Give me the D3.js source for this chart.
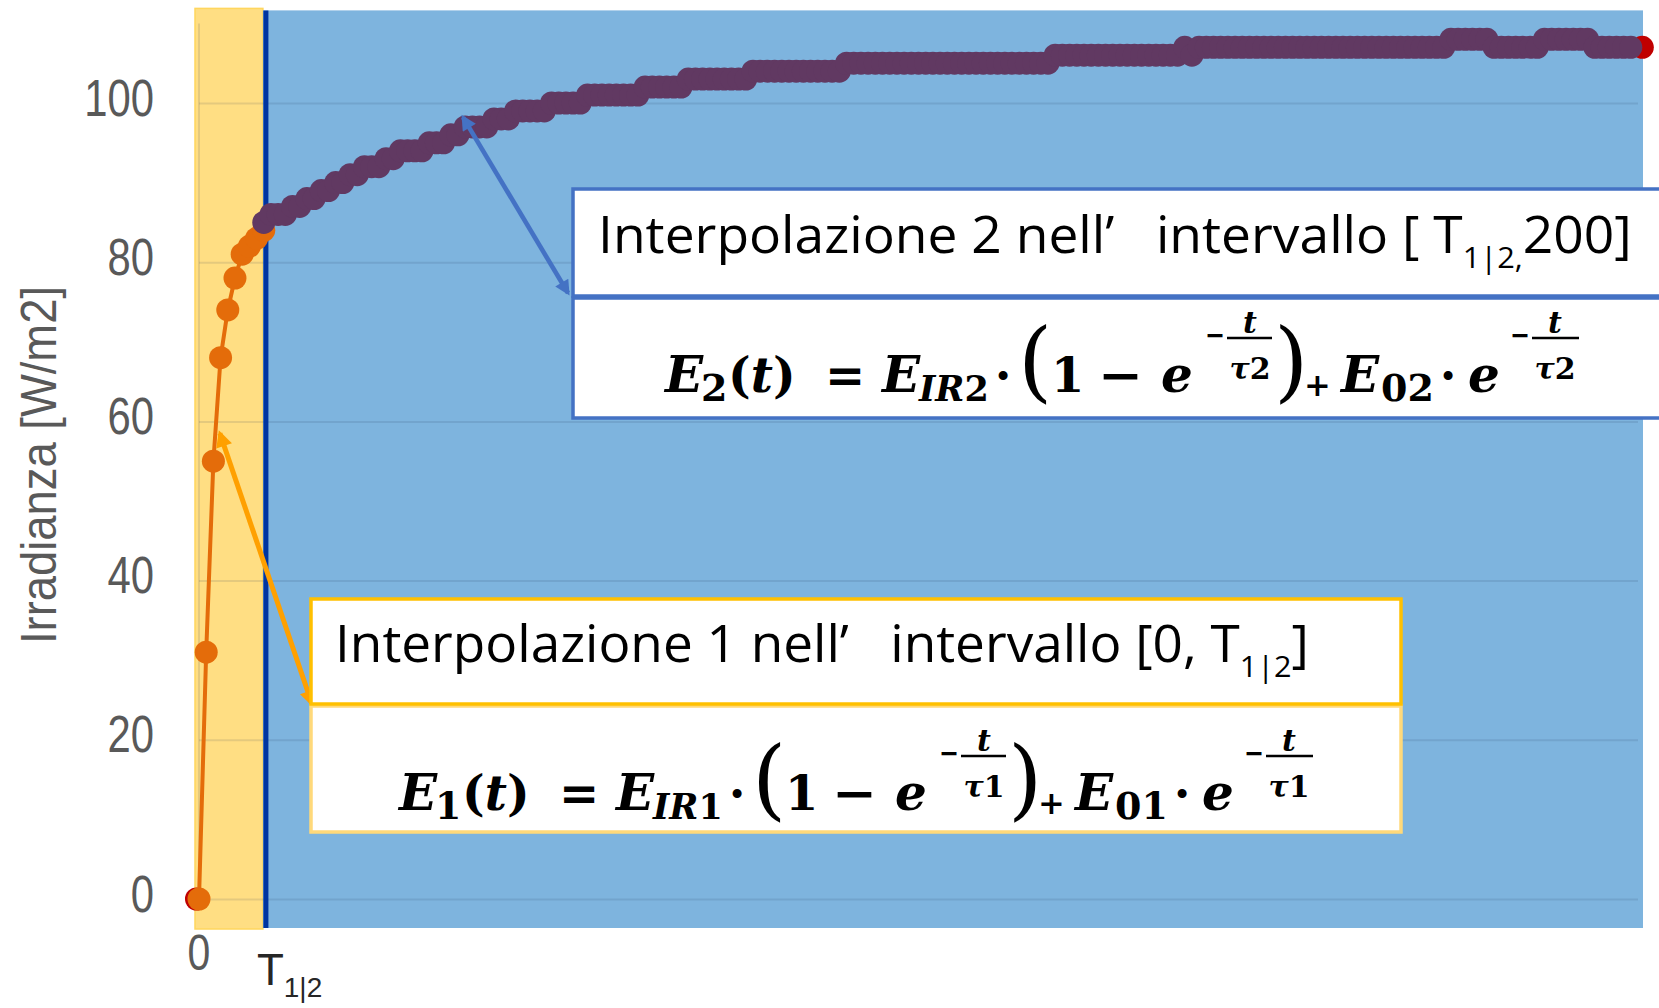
<!DOCTYPE html>
<html>
<head>
<meta charset="utf-8">
<script src="https://cdn.jsdelivr.net/npm/d3@7"></script>
<style>
  html, body { margin: 0; padding: 0; background: #fff; }
  svg { display: block; }
</style>
</head>
<body>
<svg id="chart" width="1659" height="1008"></svg>
<script>
// ---- data ----------------------------------------------------------------
const yTicks = [0, 20, 40, 60, 80, 100];

// first phase, sampled every second from t = 0
const phase1T = [0, 1, 2, 3, 4, 5, 6, 7, 8, 9];
const phase1E = [0, 31, 55, 68, 74, 78, 81, 82, 83, 84];

// second phase, one reading per second from t = 9 to t = 199
const phase2Start = 9;
const phase2E = [
  85, 86, 86, 86, 87, 87, 88, 88, 89, 89,
  90, 90, 91, 91, 92, 92, 92, 93, 93, 94,
  94, 94, 94, 95, 95, 95, 96, 96, 97, 97,
  97, 97, 98, 98, 98, 99, 99, 99, 99, 99,
  100, 100, 100, 100, 100, 101, 101, 101, 101, 101,
  101, 101, 101, 102, 102, 102, 102, 102, 102, 103,
  103, 103, 103, 103, 103, 103, 103, 103, 104, 104,
  104, 104, 104, 104, 104, 104, 104, 104, 104, 104,
  104, 105, 105, 105, 105, 105, 105, 105, 105, 105,
  105, 105, 105, 105, 105, 105, 105, 105, 105, 105,
  105, 105, 105, 105, 105, 105, 105, 105, 105, 105,
  106, 106, 106, 106, 106, 106, 106, 106, 106, 106,
  106, 106, 106, 106, 106, 106, 106, 106, 107, 106,
  107, 107, 107, 107, 107, 107, 107, 107, 107, 107,
  107, 107, 107, 107, 107, 107, 107, 107, 107, 107,
  107, 107, 107, 107, 107, 107, 107, 107, 107, 107,
  107, 107, 107, 107, 107, 108, 108, 108, 108, 108,
  108, 107, 107, 107, 107, 107, 107, 107, 108, 108,
  108, 108, 108, 108, 108, 107, 107, 107, 107, 107,
  107
];

// first and last raw readings
const endpointT = [-0.35, 200.6];
const endpointE = [0, 107];

// switch time between the two fits
const T12 = 9.3;

// ---- layout ----------------------------------------------------------------
const svg = d3.select('#chart');
const x = d3.scaleLinear().domain([0, 200]).range([199, 1638]);
const y = d3.scaleLinear().domain([0, 110]).range([899, 23.4]);

const tickFont = "'Liberation Sans', Arial, sans-serif";
const boxFont = "'Open Sans', 'Noto Sans', sans-serif";
const mathFont = "'DejaVu Serif', 'Liberation Serif', serif";

const phase1 = phase1T.map((t, i) => ({ t, e: phase1E[i] }));
const phase2 = phase2E.map((e, i) => ({ t: phase2Start + i, e }));
const endpoints = endpointT.map((t, i) => ({ t, e: endpointE[i] }));

// ---- background regions -------------------------------------------------
const bandTop = y(110) - 15, bandBottom = y(0) + 30;
svg.append('rect')
  .attr('x', x(0) - 4).attr('y', bandTop)
  .attr('width', (x(T12) - 3) - (x(0) - 4)).attr('height', bandBottom - bandTop)
  .attr('fill', '#FFDE83').attr('stroke', '#FFD65E').attr('stroke-width', 1.5);
svg.append('rect')
  .attr('x', x(T12) - 3).attr('y', bandTop + 2)
  .attr('width', (x(200) + 5) - (x(T12) - 3)).attr('height', bandBottom - bandTop - 3)
  .attr('fill', '#7EB4DE');

// ---- gridlines and axis line --------------------------------------------
const grid = svg.append('g')
  .attr('transform', `translate(${x(0)},0)`)
  .call(d3.axisLeft(y).tickValues(yTicks).tickSize(-(x(200) - x(0))).tickFormat(''));
grid.select('.domain').remove();
grid.selectAll('line').attr('stroke', 'rgba(30,50,80,0.12)').attr('stroke-width', 2);
svg.append('line')
  .attr('x1', x(0)).attr('x2', x(0)).attr('y1', y(110)).attr('y2', y(0))
  .attr('stroke', 'rgba(30,50,80,0.12)').attr('stroke-width', 2);

// boundary between the two fitting intervals
svg.append('line')
  .attr('x1', x(T12)).attr('x2', x(T12)).attr('y1', bandTop + 2).attr('y2', bandBottom - 1)
  .attr('stroke', '#0035A0').attr('stroke-width', 5);

// ---- tick labels -------------------------------------------------------------
const yAxis = svg.append('g')
  .attr('transform', `translate(${x(0)},0)`)
  .call(d3.axisLeft(y).tickValues(yTicks).tickSize(0).tickPadding(0));
yAxis.select('.domain').remove();
yAxis.attr('font-family', tickFont).attr('font-size', 51).attr('text-anchor', 'end');
yAxis.selectAll('text')
  .attr('x', null).attr('dy', null)
  .attr('transform', 'translate(-45,12) scale(0.82,1)')
  .attr('fill', '#595959');

svg.append('text')
  .attr('transform', `translate(${x(0)},970) scale(0.82,1)`)
  .attr('text-anchor', 'middle')
  .attr('font-family', tickFont).attr('font-size', 50).attr('fill', '#595959')
  .text('0');

const tLabel = svg.append('text')
  .attr('x', x(T12) - 9).attr('y', 985)
  .attr('font-family', tickFont).attr('font-size', 44).attr('fill', '#262626');
tLabel.append('tspan').text('T');
tLabel.append('tspan').attr('font-size', 28).attr('dy', 12).text('1|2');

svg.append('text')
  .attr('transform', 'translate(56,465) rotate(-90)')
  .attr('text-anchor', 'middle')
  .attr('font-family', tickFont).attr('font-size', 50).attr('fill', '#595959')
  .attr('textLength', 358).attr('lengthAdjust', 'spacingAndGlyphs')
  .text('Irradianza [W/m2]');

// ---- series ------------------------------------------------------------------
const line = d3.line().x(d => x(d.t)).y(d => y(d.e));
const R = 11.5;

svg.append('g').selectAll('circle').data(endpoints).join('circle')
  .attr('cx', d => x(d.t)).attr('cy', d => y(d.e)).attr('r', R).attr('fill', '#C00000');

svg.append('path').datum(phase1).attr('d', line)
  .attr('fill', 'none').attr('stroke', '#E46C0A').attr('stroke-width', 4);
svg.append('g').selectAll('circle').data(phase1).join('circle')
  .attr('cx', d => x(d.t)).attr('cy', d => y(d.e)).attr('r', R).attr('fill', '#E46C0A');

svg.append('path').datum(phase2).attr('d', line)
  .attr('fill', 'none').attr('stroke', '#613962').attr('stroke-width', 4);
svg.append('g').selectAll('circle').data(phase2).join('circle')
  .attr('cx', d => x(d.t)).attr('cy', d => y(d.e)).attr('r', R).attr('fill', '#613962');

// ---- callout boxes -------------------------------------------------------------
const box1 = { x: 311, y: 599, w: 1090, split: 704, bottom: 832 };
const box2 = { x: 573, y: 189, w: 1100, split: 296, bottom: 418 };

// double-headed arrows
const defs = svg.append('defs');
function arrowHead(id, color) {
  defs.append('marker').attr('id', id)
    .attr('viewBox', '0 0 10 10').attr('refX', 8).attr('refY', 5)
    .attr('markerWidth', 3.8).attr('markerHeight', 3.3)
    .attr('markerUnits', 'strokeWidth').attr('orient', 'auto-start-reverse')
    .append('path').attr('d', 'M0,0 L10,5 L0,10 z').attr('fill', color);
}
arrowHead('headBlue', '#4472C4');
arrowHead('headOrange', '#FFA000');

svg.append('line')
  .attr('x1', x(36.7)).attr('y1', y(98.2))
  .attr('x2', box2.x - 5).attr('y2', box2.split - 3)
  .attr('stroke', '#4472C4').attr('stroke-width', 4.6)
  .attr('marker-start', 'url(#headBlue)').attr('marker-end', 'url(#headBlue)');
svg.append('line')
  .attr('x1', x(2.9)).attr('y1', y(58.5))
  .attr('x2', box1.x + 1).attr('y2', box1.split)
  .attr('stroke', '#FFA000').attr('stroke-width', 5)
  .attr('marker-start', 'url(#headOrange)').attr('marker-end', 'url(#headOrange)');

function drawBox(b, topColor, bottomColor) {
  svg.append('rect').attr('x', b.x).attr('y', b.split + 2)
    .attr('width', b.w).attr('height', b.bottom - b.split - 2)
    .attr('fill', '#fff').attr('stroke', bottomColor).attr('stroke-width', 3.5);
  svg.append('rect').attr('x', b.x).attr('y', b.y)
    .attr('width', b.w).attr('height', b.split - b.y)
    .attr('fill', '#fff').attr('stroke', topColor).attr('stroke-width', 3.5);
}
drawBox(box1, '#FFC000', '#FFD97A');
drawBox(box2, '#4472C4', '#4472C4');

// heading line of a box, squeezed horizontally to the given width
function heading(x0, base, width, runs) {
  const t = svg.append('text')
    .attr('transform', `translate(${x0},${base})`)
    .attr('font-family', boxFont).attr('font-size', 52).attr('fill', '#000');
  runs.forEach(r => {
    const s = t.append('tspan').text(r.s);
    if (r.dy) s.attr('dy', r.dy);
    if (r.size) s.attr('font-size', r.size);
  });
  const w = t.node().getBBox().width;
  t.attr('transform', `translate(${x0},${base}) scale(${width / w},1)`);
}
const gap = '\u00A0\u00A0\u00A0';
heading(box1.x + 24, box1.y + 63, 974, [
  { s: 'Interpolazione 1 nell\u2019' + gap + 'intervallo [0, T' },
  { s: '1|2', size: 30, dy: 15 },
  { s: ']', dy: -15 }
]);
heading(box2.x + 25, box2.y + 64, 1034, [
  { s: 'Interpolazione 2 nell\u2019' + gap + 'intervallo [ T' },
  { s: '1|2,', size: 30, dy: 15 },
  { s: '200]', dy: -15 }
]);

// formula  E_k(t) = E_IRk · (1 − e^(−t/τk)) + E_0k · e^(−t/τk)
function formula(ox, oy, k) {
  const g = svg.append('g').attr('transform', `translate(${ox},${oy})`).attr('fill', '#000');
  const put = (runs, px, py, size, anchor) => {
    const t = g.append('text').attr('x', px).attr('y', py)
      .attr('font-family', mathFont).attr('font-size', size)
      .attr('font-weight', 'bold').attr('text-anchor', anchor || 'start');
    runs.forEach(r => {
      const s = t.append('tspan').text(r.s).attr('font-style', r.it ? 'italic' : 'normal');
      if (r.size) s.attr('font-size', r.size);
      if (r.dy) s.attr('dy', r.dy);
      if (r.w) s.attr('font-weight', r.w);
    });
    return t;
  };
  const frac = (cx, left, right) => {
    put([{ s: '\u2212' }], left - 22, -47, 30).attr('textLength', 20).attr('lengthAdjust', 'spacingAndGlyphs');
    g.append('line').attr('x1', left).attr('x2', right).attr('y1', -54).attr('y2', -54)
      .attr('stroke', '#000').attr('stroke-width', 2.5);
    put([{ s: 't', it: true }], cx, -59, 30, 'middle');
    put([{ s: '\u03C4', it: true }, { s: k }], cx, -13, 30, 'middle');
  };
  put([{ s: 'E', it: true }], 0, 0, 50);
  put([{ s: k }], 36, 9, 38);
  put([{ s: '(' }, { s: 't', it: true }, { s: ')' }], 63, 0, 48);
  put([{ s: '=' }], 160, 0, 48);
  put([{ s: 'E', it: true }], 217, 0, 50);
  put([{ s: 'IR', it: true }, { s: k }], 254, 9, 35);
  put([{ s: '\u00B7' }], 338, 0, 48, 'middle');
  put([{ s: '(', w: 'normal' }], 353, -1, 88);
  put([{ s: '1' }], 386, 0, 48);
  put([{ s: '\u2212' }], 433, 0, 48).attr('textLength', 45).attr('lengthAdjust', 'spacingAndGlyphs');
  put([{ s: 'e', it: true }], 496, 0, 50);
  frac(585, 562, 607);
  put([{ s: ')', w: 'normal' }], 609, -1, 88);
  put([{ s: '+' }], 639, 4, 32);
  put([{ s: 'E', it: true }], 676, 0, 50);
  put([{ s: '0' + k }], 716, 9, 38);
  put([{ s: '\u00B7' }], 783, 0, 48, 'middle');
  put([{ s: 'e', it: true }], 803, 0, 50);
  frac(890, 867, 914);
}
formula(box1.x + 88, 810, '1');
formula(box2.x + 92, 392, '2');
</script>
</body>
</html>
